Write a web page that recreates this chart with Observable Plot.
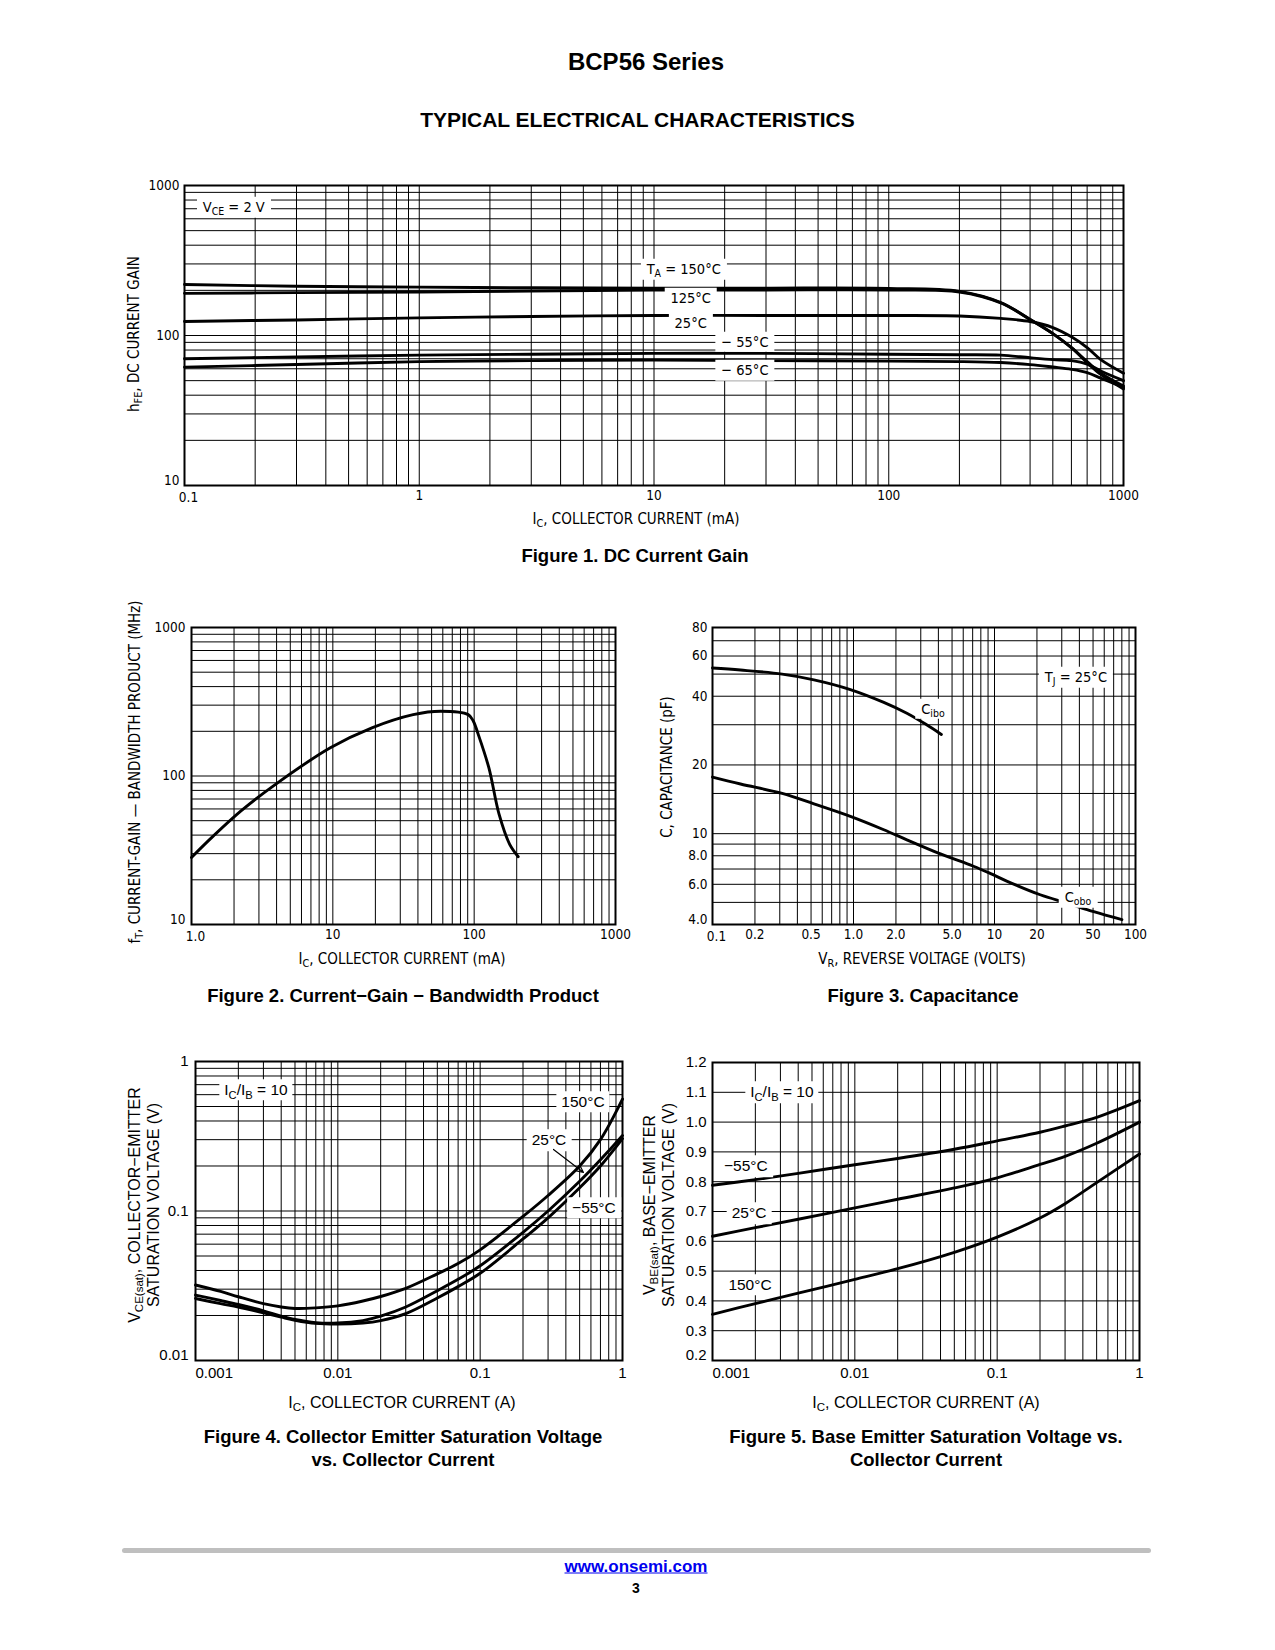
<!DOCTYPE html>
<html>
<head>
<meta charset="utf-8">
<script src="https://cdn.jsdelivr.net/npm/d3@7"></script>
<script src="https://cdn.jsdelivr.net/npm/@observablehq/plot@0.6"></script>
<style>
html,body{margin:0;padding:0;background:#fff;}
#page{position:relative;width:1275px;height:1650px;background:#fff;color:#000;font-family:"Liberation Sans",Arial,Helvetica,sans-serif;overflow:hidden}
.abs{position:absolute;white-space:nowrap;line-height:1}
.cond{font-family:"Liberation Sans Narrow","Arial Narrow","DejaVu Sans Condensed","Roboto Condensed","Liberation Sans",sans-serif;font-stretch:condensed}
.box{background:#fff;padding:3px 5px}
sub{font-size:0.72em;vertical-align:-0.3em;line-height:0}
.cap{font-weight:bold;font-size:18.5px;text-align:center;line-height:23px}
</style>
</head>
<body>
<div id="page"></div>
<script>
// ================= DATA =================
// Figure 1 : DC current gain hFE vs IC (mA), VCE = 2 V
const f1IC   = [0.1, 0.3, 1, 3, 10, 30, 100, 200, 300, 400, 500, 600, 700, 800, 1000];
const f1T150 = [219, 213, 210, 208, 207, 207, 206, 197, 166, 128, 103, 83, 66, 55, 44];
const f1T125 = [191, 193, 195, 198, 201, 201, 201, 195, 165, 128, 103, 83, 67, 56, 46];
const f1T25  = [124, 127, 131, 134, 136, 136, 136, 135, 130, 124, 113, 98, 83, 69, 56];
const f1Tm55 = [70, 72, 74, 75, 76, 76, 75, 74.5, 74, 71, 69, 68, 64.5, 58, 50];
const f1Tm65 = [61.5, 64, 67, 68, 68.5, 68, 67.5, 67, 66, 64, 61.6, 59.5, 56.6, 52, 45];
const f1XTicks = [0.1, 1, 10, 100, 1000];
const f1XTickLabels = ["0.1", "1", "10", "100", "1000"];
const f1YTicks = [10, 100, 1000];
const f1YTickLabels = ["10", "100", "1000"];
const f1Labels = [
  {x: 0.163, y: 708, html: "V<sub>CE</sub> = 2 V"},
  {x: 13.45, y: 274, html: "T<sub>A</sub> = 150°C"},
  {x: 14.4, y: 175.7, html: "125°C"},
  {x: 14.4, y: 119.7, html: "25°C"},
  {x: 24.5, y: 90.5, html: "− 55°C"},
  {x: 24.5, y: 58.4, html: "− 65°C"}
];

// Figure 2 : fT (MHz) vs IC (mA)
const f2IC = [1, 1.43, 2.24, 3.93, 9.6, 18.9, 37, 58, 90.7, 98.7, 107, 127, 150, 178, 205];
const f2FT = [28.3, 39.5, 58.2, 87.9, 154.9, 211, 259, 273, 259, 234, 190, 113.7, 55.3, 34.8, 28.6];
const f2XTicks = [1, 10, 100, 1000];
const f2XTickLabels = ["1.0", "10", "100", "1000"];
const f2YTicks = [10, 100, 1000];
const f2YTickLabels = ["10", "100", "1000"];

// Figure 3 : capacitance (pF) vs reverse voltage (V)
const f3CiboV = [0.1, 0.158, 0.312, 0.524, 0.95, 1.64, 2.39, 3.24, 4.2];
const f3Cibo  = [53.2, 52.1, 50, 47.2, 42.8, 37.6, 33.7, 30.2, 27.2];
const f3CoboV = [0.1, 0.158, 0.312, 0.524, 0.95, 1.64, 2.39, 4.14, 7.09, 9.3, 12.2, 21.1, 32.5, 50.6, 80.1];
const f3Cobo  = [17.7, 16.5, 15, 13.5, 11.9, 10.4, 9.4, 8.15, 7.2, 6.7, 6.2, 5.4, 4.97, 4.55, 4.2];
const f3XTicks = [0.1, 0.2, 0.5, 1, 2, 5, 10, 20, 50, 100];
const f3XTickLabels = ["0.1", "0.2", "0.5", "1.0", "2.0", "5.0", "10", "20", "50", "100"];
const f3YTicks = [4, 6, 8, 10, 20, 40, 60, 80];
const f3YTickLabels = ["4.0", "6.0", "8.0", "10", "20", "40", "60", "80"];
const f3YGrid = [4, 5, 6, 7, 8, 9, 10, 15, 20, 30, 40, 50, 60, 70, 80];
const f3Labels = [
  {x: 38.1, y: 48.3, html: "T<sub>J</sub> = 25°C"},
  {x: 3.69, y: 35, html: "C<sub>ibo</sub>"},
  {x: 39.4, y: 5.25, html: "C<sub>obo</sub>"}
];

// Figure 4 : VCE(sat) (V) vs IC (A), IC/IB = 10
const f4IC   = [0.001, 0.0015, 0.002, 0.003, 0.004, 0.005, 0.007, 0.01, 0.015, 0.02, 0.03, 0.05, 0.07, 0.1, 0.2, 0.3, 0.5, 0.7, 1.0];
const f4T150 = [0.032, 0.029, 0.0267, 0.024, 0.0228, 0.0223, 0.0225, 0.0232, 0.025, 0.0268, 0.0304, 0.038, 0.0445, 0.055, 0.092, 0.127, 0.2, 0.3, 0.56];
const f4T25  = [0.0274, 0.0252, 0.0237, 0.0215, 0.0198, 0.0188, 0.0179, 0.0178, 0.0185, 0.0198, 0.0228, 0.0293, 0.0349, 0.043, 0.072, 0.1, 0.158, 0.22, 0.32];
const f4Tm55 = [0.026, 0.024, 0.0228, 0.0208, 0.0195, 0.0186, 0.0177, 0.0175, 0.0178, 0.0185, 0.0206, 0.0262, 0.0312, 0.0383, 0.065, 0.09, 0.143, 0.2, 0.305];
const f4XTicks = [0.001, 0.01, 0.1, 1];
const f4XTickLabels = ["0.001", "0.01", "0.1", "1"];
const f4YTicks = [0.01, 0.1, 1];
const f4YTickLabels = ["0.01", "0.1", "1"];
const f4Labels = [
  {x: 0.00268, y: 0.64, html: "I<sub>C</sub>/I<sub>B</sub> = 10"},
  {x: 0.532, y: 0.532, html: "150°C"},
  {x: 0.307, y: 0.296, html: "25°C"},
  {x: 0.635, y: 0.104, html: "−55°C"}
];
const f4Arrow = [{x1: 0.3276, y1: 0.258, x2: 0.532, y2: 0.181}];

// Figure 5 : VBE(sat) (V) vs IC (A), IC/IB = 10
const f5IC   = [0.001, 0.002, 0.004, 0.01, 0.02, 0.05, 0.1, 0.2, 0.3, 0.5, 1.0];
const f5Tm55 = [0.788, 0.807, 0.828, 0.857, 0.878, 0.909, 0.937, 0.966, 0.987, 1.016, 1.072];
const f5T25  = [0.617, 0.646, 0.674, 0.712, 0.741, 0.779, 0.813, 0.858, 0.885, 0.929, 1.0];
const f5T150 = [0.355, 0.391, 0.426, 0.472, 0.508, 0.563, 0.614, 0.678, 0.726, 0.797, 0.893];
const f5XTicks = [0.001, 0.01, 0.1, 1];
const f5XTickLabels = ["0.001", "0.01", "0.1", "1"];
const f5YTicks = [0.2, 0.3, 0.4, 0.5, 0.6, 0.7, 0.8, 0.9, 1.0, 1.1, 1.2];
const f5YTickLabels = ["0.2", "0.3", "0.4", "0.5", "0.6", "0.7", "0.8", "0.9", "1.0", "1.1", "1.2"];
const f5Labels = [
  {x: 0.0031, y: 1.099, html: "I<sub>C</sub>/I<sub>B</sub> = 10"},
  {x: 0.00173, y: 0.851, html: "−55°C"},
  {x: 0.00182, y: 0.693, html: "25°C"},
  {x: 0.00185, y: 0.452, html: "150°C"}
];

// ================= HELPERS =================
const page = document.getElementById("page");
const TICKFONT = '"Liberation Sans", Arial, Helvetica, sans-serif';
const CONDFONT = '"Liberation Sans Narrow", "Arial Narrow", "DejaVu Sans Condensed", "Liberation Sans", sans-serif';

function addText(html, x, y, cls, style = {}, rotate = 0) {
  const d = document.createElement("div");
  d.className = "abs " + (cls || "");
  d.innerHTML = html;
  d.style.left = x + "px";
  d.style.top = y + "px";
  d.style.transform = "translate(-50%,-50%)" + (rotate ? ` rotate(${rotate}deg)` : "");
  Object.assign(d.style, style);
  page.appendChild(d);
  return d;
}

function logGrid(lo, hi) {
  const out = [];
  for (let e = Math.floor(Math.log10(lo)) ; e <= Math.ceil(Math.log10(hi)); e++) {
    for (let m = 1; m < 10; m++) {
      const v = +(m * Math.pow(10, e)).toPrecision(4);
      if (v >= lo * 0.999 && v <= hi * 1.001) out.push(v);
    }
  }
  return out;
}

function tidy(xs, series) {
  return series.flatMap(s => xs.map((x, i) => ({x, y: s.values[i], s: s.name})));
}

// first x tick / first y tick get small offsets so the two corner labels do not collide
function tickMarks(xt, xl, yt, yl, fs, xdy, ydx, firstStart, font) {
  const xs = xt.map((v, i) => ({v, t: xl[i]}));
  const ys = yt.map((v, i) => ({v, t: yl[i]}));
  const common = {text: "t", fontSize: fs, fill: "#000", fontFamily: font};
  const marks = [];
  if (firstStart) {
    marks.push(Plot.text(xs.slice(0, 1), {...common, x: "v", frameAnchor: "bottom", textAnchor: "start", lineAnchor: "middle", dy: xdy}));
  } else {
    marks.push(Plot.text(xs.slice(0, 1), {...common, x: "v", frameAnchor: "bottom", lineAnchor: "middle", dy: xdy + 2, dx: 4}));
  }
  marks.push(Plot.text(xs.slice(1), {...common, x: "v", frameAnchor: "bottom", lineAnchor: "middle", dy: xdy}));
  marks.push(Plot.text(ys.slice(0, 1), {...common, y: "v", frameAnchor: "left", textAnchor: "end", dx: -ydx, dy: -5}));
  marks.push(Plot.text(ys.slice(1), {...common, y: "v", frameAnchor: "left", textAnchor: "end", dx: -ydx}));
  return marks;
}

function scaleFn(s) {
  if (s && typeof s.apply === "function") return v => s.apply(v);
  const f = (s.type === "log" ? d3.scaleLog() : d3.scaleLinear()).domain(s.domain).range(s.range);
  return f;
}

function chart(frame, xOpt, yOpt, marks) {
  const [x0, x1, y0, y1] = frame;
  const ml = 60, mr = 30, mt = 12, mb = 34;
  const p = Plot.plot({
    width: x1 - x0 + ml + mr,
    height: y1 - y0 + mt + mb,
    marginLeft: ml, marginRight: mr, marginTop: mt, marginBottom: mb,
    style: {fontFamily: TICKFONT, fontSize: "13px", color: "#000", background: "transparent", overflow: "visible"},
    x: {...xOpt, axis: null},
    y: {...yOpt, axis: null},
    marks
  });
  p.style.position = "absolute";
  p.style.left = (x0 - ml) + "px";
  p.style.top = (y0 - mt) + "px";
  page.appendChild(p);
  const ox = x0 - ml, oy = y0 - mt;
  const sx = scaleFn(p.scale("x")), sy = scaleFn(p.scale("y"));
  return {p, place: (items, cls, style) => items.forEach(it => addText(it.html, ox + sx(it.x), oy + sy(it.y), "box " + (cls || ""), style))};
}

const gridStyle = {stroke: "#000", strokeWidth: 1};
const curveStyle = {x: "x", y: "y", z: "s", stroke: "#000", strokeWidth: 2.9, curve: "catmull-rom"};

// ================= PAGE TITLES =================
addText("BCP56 Series", 646, 62, "", {fontWeight: "bold", fontSize: "24px"});
addText("TYPICAL ELECTRICAL CHARACTERISTICS", 637.5, 119, "", {fontWeight: "bold", fontSize: "21px"});

// ================= FIGURE 1 =================
{
  const data = tidy(f1IC, [
    {name: "150", values: f1T150}, {name: "125", values: f1T125}, {name: "25", values: f1T25},
    {name: "-55", values: f1Tm55}, {name: "-65", values: f1Tm65}
  ]);
  const c = chart([184, 1123, 185, 485],
    {type: "log", domain: [0.1, 1000]}, {type: "log", domain: [10, 1000]},
    [
      Plot.ruleX(logGrid(0.1, 1000), gridStyle),
      Plot.ruleY(logGrid(10, 1000), gridStyle),
      Plot.line(data, curveStyle),
      Plot.frame({stroke: "#000", strokeWidth: 2}),
      ...tickMarks(f1XTicks, f1XTickLabels, f1YTicks, f1YTickLabels, 13.5, 10, 5, false, CONDFONT)
    ]);
  c.place(f1Labels, "cond", {fontSize: "14.5px", padding: "3px 6px"});
  addText("I<sub>C</sub>, COLLECTOR CURRENT (mA)", 636, 519, "cond", {fontSize: "15px"});
  addText("h<sub>FE</sub>, DC CURRENT GAIN", 134, 334, "cond", {fontSize: "15px"}, -90);
  addText("Figure 1. DC Current Gain", 635, 555, "cap");
}

// ================= FIGURE 2 =================
{
  const data = f2IC.map((x, i) => ({x, y: f2FT[i], s: "fT"}));
  chart([191, 615, 627, 924],
    {type: "log", domain: [1, 1000]}, {type: "log", domain: [10, 1000]},
    [
      Plot.ruleX(logGrid(1, 1000), gridStyle),
      Plot.ruleY(logGrid(10, 1000), gridStyle),
      Plot.line(data, curveStyle),
      Plot.frame({stroke: "#000", strokeWidth: 2}),
      ...tickMarks(f2XTicks, f2XTickLabels, f2YTicks, f2YTickLabels, 13.5, 10, 6, false, CONDFONT)
    ]);
  addText("I<sub>C</sub>, COLLECTOR CURRENT (mA)", 402, 959, "cond", {fontSize: "15px"});
  addText("f<sub>T</sub>, CURRENT-GAIN — BANDWIDTH PRODUCT (MHz)", 135, 772, "cond", {fontSize: "15px"}, -90);
  addText("Figure 2. Current−Gain − Bandwidth Product", 403, 995, "cap");
}

// ================= FIGURE 3 =================
{
  const data = [
    ...f3CiboV.map((x, i) => ({x, y: f3Cibo[i], s: "Cibo"})),
    ...f3CoboV.map((x, i) => ({x, y: f3Cobo[i], s: "Cobo"}))
  ];
  const c = chart([712, 1135, 627, 924],
    {type: "log", domain: [0.1, 100]}, {type: "log", domain: [4, 80]},
    [
      Plot.ruleX(logGrid(0.1, 100), gridStyle),
      Plot.ruleY(f3YGrid, gridStyle),
      Plot.line(data, curveStyle),
      Plot.frame({stroke: "#000", strokeWidth: 2}),
      ...tickMarks(f3XTicks, f3XTickLabels, f3YTicks, f3YTickLabels, 13.5, 10, 5, false, CONDFONT)
    ]);
  c.place(f3Labels, "cond", {fontSize: "14.5px", padding: "3px 6px"});
  addText("V<sub>R</sub>, REVERSE VOLTAGE (VOLTS)", 922, 959, "cond", {fontSize: "15px"});
  addText("C, CAPACITANCE (pF)", 667, 767, "cond", {fontSize: "15px"}, -90);
  addText("Figure 3. Capacitance", 923, 995, "cap");
}

// ================= FIGURE 4 =================
{
  const data = tidy(f4IC, [
    {name: "150", values: f4T150}, {name: "25", values: f4T25}, {name: "-55", values: f4Tm55}
  ]);
  const c = chart([195, 622, 1061, 1360],
    {type: "log", domain: [0.001, 1]}, {type: "log", domain: [0.01, 1]},
    [
      Plot.ruleX(logGrid(0.001, 1), gridStyle),
      Plot.ruleY(logGrid(0.01, 1), gridStyle),
      Plot.line(data, curveStyle),
      Plot.frame({stroke: "#000", strokeWidth: 2}),
      ...tickMarks(f4XTicks, f4XTickLabels, f4YTicks, f4YTickLabels, 15, 13, 7, true, TICKFONT)
    ]);
  c.place(f4Labels, "", {fontSize: "15.5px", padding: "3px 5px"});
  chart([195, 622, 1061, 1360],
    {type: "log", domain: [0.001, 1]}, {type: "log", domain: [0.01, 1]},
    [Plot.arrow(f4Arrow, {x1: "x1", y1: "y1", x2: "x2", y2: "y2", stroke: "#000", strokeWidth: 1.2, headLength: 9, headAngle: 50})]
  );
  addText("I<sub>C</sub>, COLLECTOR CURRENT (A)", 402, 1403, "", {fontSize: "16px"});
  addText("V<sub>CE(sat)</sub>, COLLECTOR−EMITTER<br>SATURATION VOLTAGE (V)", 143.5, 1205, "", {fontSize: "16px", lineHeight: "19px", textAlign: "center"}, -90);
  addText("Figure 4. Collector Emitter Saturation Voltage<br>vs. Collector Current", 403, 1447.5, "cap");
}

// ================= FIGURE 5 =================
{
  const data = tidy(f5IC, [
    {name: "-55", values: f5Tm55}, {name: "25", values: f5T25}, {name: "150", values: f5T150}
  ]);
  const c = chart([712, 1139, 1062, 1360],
    {type: "log", domain: [0.001, 1]}, {type: "linear", domain: [0.2, 1.2]},
    [
      Plot.ruleX(logGrid(0.001, 1), gridStyle),
      Plot.ruleY(f5YTicks, gridStyle),
      Plot.line(data, curveStyle),
      Plot.frame({stroke: "#000", strokeWidth: 2}),
      ...tickMarks(f5XTicks, f5XTickLabels, f5YTicks, f5YTickLabels, 15, 13, 6, true, TICKFONT)
    ]);
  c.place(f5Labels, "", {fontSize: "15.5px", padding: "3px 5px"});
  addText("I<sub>C</sub>, COLLECTOR CURRENT (A)", 926, 1403, "", {fontSize: "16px"});
  addText("V<sub>BE(sat)</sub>, BASE−EMITTER<br>SATURATION VOLTAGE (V)", 659, 1205, "", {fontSize: "16px", lineHeight: "19px", textAlign: "center"}, -90);
  addText("Figure 5. Base Emitter Saturation Voltage vs.<br>Collector Current", 926, 1447.5, "cap");
}

// ================= FOOTER =================
{
  const bar = document.createElement("div");
  Object.assign(bar.style, {position: "absolute", left: "122px", top: "1548px", width: "1029px", height: "5px", background: "#bfbfbf", borderRadius: "3px"});
  page.appendChild(bar);
  addText('<a href="http://www.onsemi.com" style="color:#0000ee;text-decoration:underline">www.onsemi.com</a>', 636, 1566, "", {fontWeight: "bold", fontSize: "17px"});
  addText("3", 636, 1588, "", {fontWeight: "bold", fontSize: "14px"});
}
</script>
</body>
</html>
